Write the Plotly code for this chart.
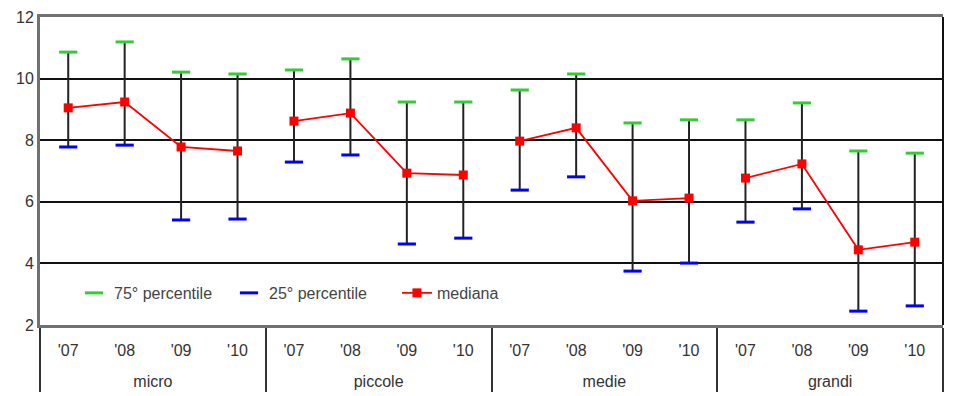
import plotly.graph_objects as go

groups = ["micro", "piccole", "medie", "grandi"]
years = ["'07", "'08", "'09", "'10"]

p75 = [10.86, 11.19, 10.21, 10.15,
       10.28, 10.64, 9.24, 9.24,
       9.63, 10.15, 8.56, 8.66,
       8.66, 9.21, 7.65, 7.58]
mediana = [9.05, 9.24, 7.78, 7.65,
           8.62, 8.88, 6.93, 6.87,
           7.97, 8.40, 6.03, 6.12,
           6.77, 7.23, 4.44, 4.69]
p25 = [7.78, 7.84, 5.41, 5.44,
       7.29, 7.52, 4.63, 4.82,
       6.38, 6.81, 3.75, 4.01,
       5.34, 5.77, 2.45, 2.62]

xg = [g for g in groups for _ in years]
# extra blank line pushes the group row further down
xy = [y + "<br>\u00a0" for _ in groups for y in years]

fig = go.Figure()

# median per group (broken line between groups) with whiskers
for i, g in enumerate(groups):
    s = slice(i * 4, i * 4 + 4)
    med = mediana[s]
    hi = p75[s]
    lo = p25[s]
    fig.add_trace(go.Scatter(
        x=[xg[s], xy[s]], y=med, mode="lines+markers",
        name="mediana", legendgroup="med", showlegend=(i == 0), legend="legend3",
        line=dict(color="#ff0000", width=1.8),
        marker=dict(symbol="square", size=9, color="#ff0000"),
        error_y=dict(type="data", symmetric=False,
                     array=[h - m for h, m in zip(hi, med)],
                     arrayminus=[m - l for m, l in zip(med, lo)],
                     color="#222222", thickness=2, width=0),
    ))

fig.add_trace(go.Scatter(
    x=[xg, xy], y=p75, mode="markers", name="75° percentile", legend="legend",
    marker=dict(symbol="line-ew", size=13, line=dict(width=3, color="#33cc33")),
))
fig.add_trace(go.Scatter(
    x=[xg, xy], y=p25, mode="markers", name="25° percentile", legend="legend2",
    marker=dict(symbol="line-ew", size=13, line=dict(width=3, color="#0000ff")),
))

leg_common = dict(orientation="h", xanchor="left", y=0.104, yanchor="middle",
                  bgcolor="rgba(0,0,0,0)", font=dict(size=16, color="#444444"))
fig.update_layout(
    width=956, height=396,
    margin=dict(l=40, r=13, t=17, b=71, autoexpand=False),
    paper_bgcolor="white", plot_bgcolor="white",
    font=dict(family="Liberation Sans, Arial, sans-serif", color="#333333", size=16),
    legend=dict(x=0.0377, **leg_common),
    legend2=dict(x=0.2093, **leg_common),
    legend3=dict(x=0.3953, **leg_common),
    showlegend=True,
)
fig.update_yaxes(range=[2, 12], tickvals=[2, 4, 6, 8, 10, 12], showgrid=True,
                 gridcolor="#111111", gridwidth=2, showline=True, linecolor="#6e7272",
                 linewidth=3, ticks="", zeroline=False,
                 tickfont=dict(size=16, color="#333333"))
fig.update_xaxes(type="multicategory", range=[-0.5, 15.5], showline=True,
                 linecolor="#6e7272", linewidth=3,
                 mirror=True, showgrid=False, ticks="", showdividers=True,
                 dividercolor="#333333", dividerwidth=2, ticklabelstandoff=9,
                 tickfont=dict(size=16, color="#333333"))
fig.add_shape(type="line", xref="paper", yref="paper", x0=1, x1=1, y0=0, y1=1,
              line=dict(color="#111111", width=2))

fig.write_html("out.html", config={"displayModeBar": False},
               post_script="document.body.style.margin='0';")
